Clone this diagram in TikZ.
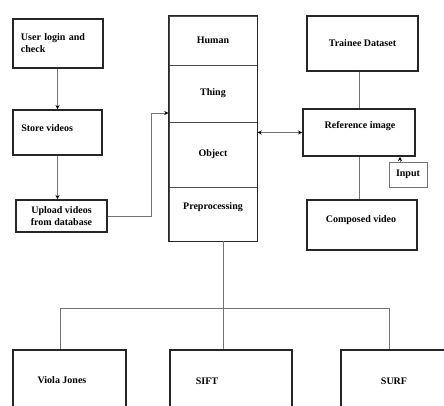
\documentclass[tikz,border=0pt]{standalone}
\usepackage{fontspec}
\setmainfont{Liberation Serif}
\usetikzlibrary{arrows.meta}
\begin{document}
\begin{tikzpicture}[x=0.75pt,y=-0.75pt,
  lbl/.style={font=\bfseries\fontsize{7.5}{9}\selectfont},
  box/.style={draw=black!85, line width=1.1pt, inner sep=0pt, lbl, align=center},
  cell/.style={draw=black!70, line width=0.7pt, inner sep=0pt, lbl, align=center, minimum width=66pt},
  txt/.style={lbl, inner sep=0pt, align=left},
  conn/.style={draw=black!55, line width=0.6pt},
  tip/.tip={Stealth[length=3.2pt,width=3pt,color=black]},
  arr/.style={conn, -tip},
]
\useasboundingbox (0,0) rectangle (444,405);
\clip (0,0) rectangle (444,405);
% left column
\node[box, minimum width=67.5pt, minimum height=36.75pt, text width=55.5pt, align=left] (login) at (58,43.5) {User login and\\check};
\node[box, minimum width=66.75pt, minimum height=33.75pt] (store) at (57.5,132.5) {};
\node[txt, anchor=west] (storet) at (21,128) {Store videos};
\node[box, minimum width=68.25pt, minimum height=24pt] (upload) at (61.5,216) {Upload videos\\from database};
% middle stack
\node[cell, minimum height=36.75pt] (human) at (213,40.5) {Human};
\node[cell, minimum height=42.75pt] (thing) at (213,93.5) {Thing};
\node[cell, minimum height=48.75pt] (object) at (213,154.5) {Object};
\node[cell, minimum height=40.5pt] (prep) at (213,214) {};
\node[txt] (prept) at (213,207) {Preprocessing};
\draw[line width=1.1pt, black!85] (human.north west) rectangle (prep.south east);
% right column
\node[box, minimum width=83.25pt, minimum height=41.25pt] (trainee) at (362.5,43.5) {Trainee Dataset};
\node[box, minimum width=84pt, minimum height=35.25pt] (ref) at (359,132.5) {};
\node[txt] (reft) at (360,126) {Reference image};
\node[draw=black!55, line width=0.7pt, inner sep=0pt, lbl, minimum width=28.5pt, minimum height=18.75pt] (input) at (408,174.5) {Input};
\node[box, minimum width=82.5pt, minimum height=37.5pt] (composed) at (362,225) {};
\node[txt] (compt) at (361,220) {Composed video};
% bottom row
\node[box, minimum width=84.75pt, minimum height=60pt] (viola) at (69.5,390) {};
\node[txt] (violat) at (62,380) {Viola Jones};
\node[box, minimum width=91.5pt, minimum height=60pt] (sift) at (231,390) {};
\node[txt] (siftt) at (207,381) {SIFT};
\node[box, minimum width=89.25pt, minimum height=60pt] (surf) at (400.5,390) {};
\node[txt] (surft) at (394,381) {SURF};
% connectors
\draw[arr] (login.south -| store.north) -- (store.north);
\draw[arr] (store.south) -- (store.south |- upload.north);
\coordinate (bend) at (151,113);
\draw[arr] (upload.east) -- (upload.east -| bend) -- (bend) -- (bend -| thing.west);
\draw[conn, tip-tip] (ref.west -| object.east) -- (ref.west);
\draw[conn] (trainee.south -| ref.north) -- (ref.north);
\draw[conn] (ref.south) -- (ref.south |- composed.north);
\coordinate (inp) at (400,162);
\draw[arr] (inp) -- (inp |- ref.south);
\coordinate (jm) at (223,308);
\coordinate (jl) at (60,308);
\coordinate (jr) at (389,308);
\draw[conn] (jm |- prep.south) -- (jm);
\draw[conn] (jl) -- (jr);
\draw[conn] (jl) -- (jl |- viola.north);
\draw[conn] (jm) -- (jm |- sift.north);
\draw[conn] (jr) -- (jr |- surf.north);
\end{tikzpicture}
\end{document}
